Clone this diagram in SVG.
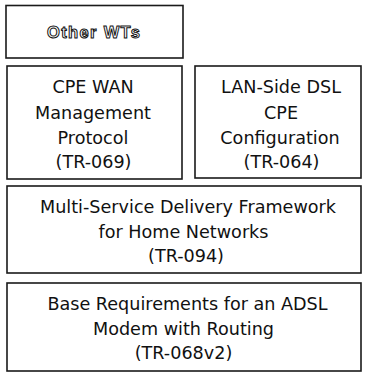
<svg xmlns="http://www.w3.org/2000/svg" width="367" height="372" viewBox="0 0 367 372">
<style>
.box{fill:#fff;stroke:#1a1a1a;stroke-width:1.6}
.t{font-family:"DejaVu Sans","Liberation Sans",Arial,sans-serif;font-size:17.6px;fill:#111;text-anchor:middle}
.o{font-family:"Liberation Sans",Arial,sans-serif;font-size:16.5px;font-weight:bold;fill:#fff;stroke:#111;stroke-width:1;text-anchor:middle}
</style>
<rect width="367" height="372" fill="#fff"/>
<g id="other-wts">
<rect class="box" x="6" y="5.5" width="177" height="52.5"/>
<text class="o" x="93.5" y="37.5" textLength="93">Other WTs</text>
</g>
<g id="tr069">
<rect class="box" x="7" y="66" width="175" height="113"/>
<text class="t" x="93" y="93">CPE WAN</text>
<text class="t" x="93" y="119">Management</text>
<text class="t" x="93" y="144">Protocol</text>
<text class="t" x="93.5" y="168">(TR-069)</text>
</g>
<g id="tr064">
<rect class="box" x="195" y="66" width="166" height="112"/>
<text class="t" x="281" y="93">LAN-Side DSL</text>
<text class="t" x="281" y="119">CPE</text>
<text class="t" x="280" y="144">Configuration</text>
<text class="t" x="281.5" y="168">(TR-064)</text>
</g>
<g id="tr094">
<rect class="box" x="7" y="186" width="354" height="87"/>
<text class="t" x="188" y="213">Multi-Service Delivery Framework</text>
<text class="t" x="183.5" y="238">for Home Networks</text>
<text class="t" x="186" y="262">(TR-094)</text>
</g>
<g id="tr068">
<rect class="box" x="7" y="283" width="354" height="88"/>
<text class="t" x="187.5" y="310">Base Requirements for an ADSL</text>
<text class="t" x="183.5" y="335">Modem with Routing</text>
<text class="t" x="183.5" y="359">(TR-068v2)</text>
</g>
<g id="connectors"/>
</svg>
